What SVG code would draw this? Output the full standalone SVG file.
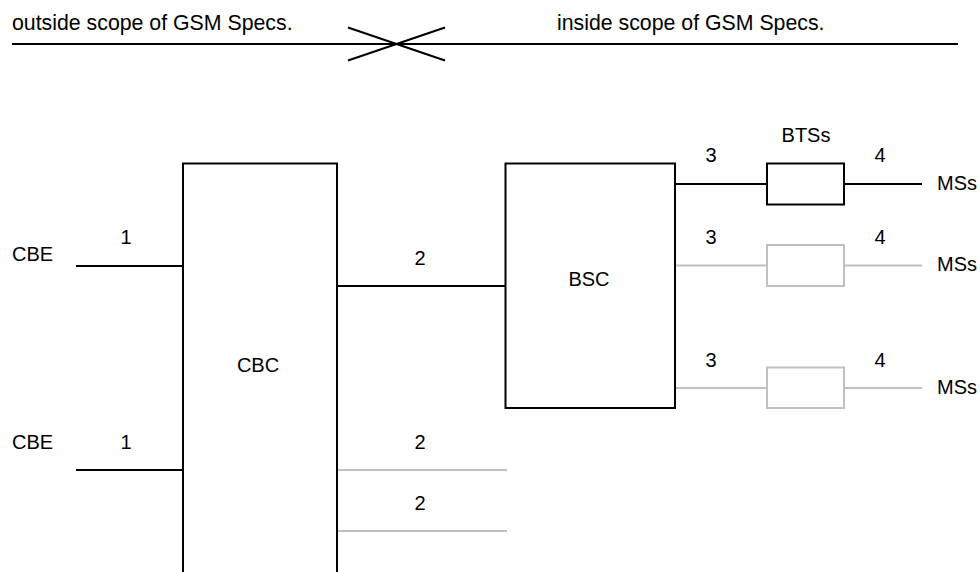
<svg xmlns="http://www.w3.org/2000/svg" width="980" height="572" viewBox="0 0 980 572">
<style>
text{font-family:"Liberation Sans",Arial,sans-serif;font-size:20px;fill:#000}
.hd{font-size:21.3px}
.blk{stroke:#000;stroke-width:2;fill:none}
.gry{stroke:#c0c0c0;stroke-width:2;fill:none}
.box{fill:#fff;stroke:#000;stroke-width:2}
.gbox{fill:#fff;stroke:#c0c0c0;stroke-width:2}
.m{text-anchor:middle}
</style>
<rect width="980" height="572" fill="#fff"/>
<g id="scope">
<line class="blk" x1="12" y1="44" x2="958" y2="44"/>
<line class="blk" x1="348" y1="27.5" x2="445" y2="60.5"/>
<line class="blk" x1="348" y1="60.5" x2="445" y2="27.5"/>
<text class="hd" x="12" y="29.5">outside scope of GSM Specs.</text>
<text class="hd" x="557" y="29.5">inside scope of GSM Specs.</text>
</g>
<g id="connectors">
<line class="blk" x1="76" y1="266" x2="183" y2="266"/>
<line class="blk" x1="76" y1="470" x2="183" y2="470"/>
<line class="blk" x1="337" y1="286" x2="506" y2="286"/>
<line class="gry" x1="337" y1="470" x2="507" y2="470"/>
<line class="gry" x1="337" y1="531" x2="507" y2="531"/>
<line class="blk" x1="675" y1="184" x2="767" y2="184"/>
<line class="blk" x1="844" y1="184" x2="922" y2="184"/>
<line class="gry" x1="675" y1="265.5" x2="767" y2="265.5"/>
<line class="gry" x1="844" y1="265.5" x2="922" y2="265.5"/>
<line class="gry" x1="675" y1="388" x2="767" y2="388"/>
<line class="gry" x1="844" y1="388" x2="922" y2="388"/>
<text class="m" x="126" y="244">1</text>
<text class="m" x="126" y="449">1</text>
<text class="m" x="420" y="265">2</text>
<text class="m" x="420" y="449">2</text>
<text class="m" x="420" y="510">2</text>
<text class="m" x="711" y="162">3</text>
<text class="m" x="711" y="244">3</text>
<text class="m" x="711" y="367">3</text>
<text class="m" x="880" y="162">4</text>
<text class="m" x="880" y="244">4</text>
<text class="m" x="880" y="367">4</text>
</g>
<g id="cbe1"><text x="12" y="261">CBE</text></g>
<g id="cbe2"><text x="12" y="449">CBE</text></g>
<g id="cbc">
<path class="box" d="M183 572 V163.5 H337 V572"/>
<text class="m" x="258" y="372">CBC</text>
</g>
<g id="bsc">
<rect class="box" x="505.5" y="163.5" width="169.5" height="244.5"/>
<text class="m" x="589" y="286">BSC</text>
</g>
<g id="bts1">
<rect class="box" x="767" y="163.5" width="77" height="41"/>
<text class="m" x="806" y="142">BTSs</text>
</g>
<g id="bts2"><rect class="gbox" x="767" y="245" width="77" height="41"/></g>
<g id="bts3"><rect class="gbox" x="767" y="367.5" width="77" height="40.5"/></g>
<g id="ms1"><text x="937" y="190">MSs</text></g>
<g id="ms2"><text x="937" y="271">MSs</text></g>
<g id="ms3"><text x="937" y="394">MSs</text></g>
</svg>
